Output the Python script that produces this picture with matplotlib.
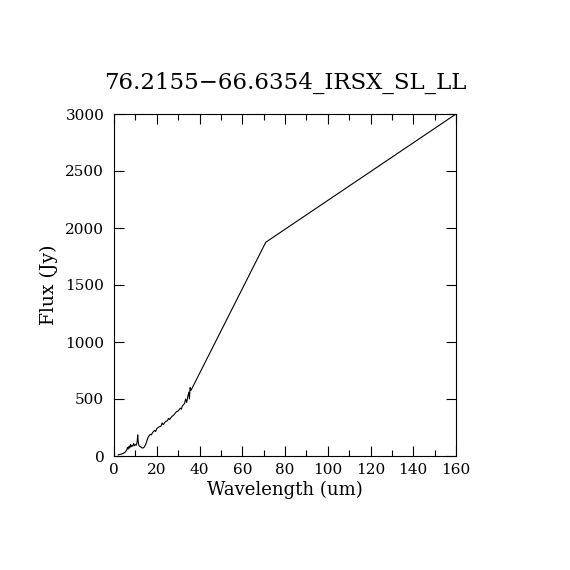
import matplotlib
matplotlib.use("Agg")
import matplotlib.pyplot as plt
from matplotlib.ticker import MultipleLocator

# spectrum (IRS SL+LL) plus the two long-wavelength photometry points
wave = [2.0, 3.0, 4.0, 5.0, 5.5, 6.0, 6.3, 6.6, 7.0, 7.3, 7.7, 8.0, 8.4, 8.8,
        9.2, 9.6, 10.0, 10.4, 10.8, 11.1, 11.3, 11.6, 12.0, 12.5, 13.0, 13.5,
        14.0, 14.5, 15.0, 15.5, 16.0, 16.5, 17.0, 17.5, 18.0, 19.0, 19.5, 20.0,
        21.0, 22.0, 22.5, 23.0, 24.0, 25.0, 25.5, 26.0, 27.0, 28.0, 29.0, 30.0,
        31.0, 31.5, 32.0, 33.0, 33.5, 34.0, 34.5, 35.0, 35.3, 35.6, 36.0,
        71.0, 160.0]
flux = [10, 15, 20, 30, 40, 55, 75, 60, 85, 70, 100, 80, 95, 85,
        110, 90, 100, 95, 120, 185, 130, 95, 85, 80, 72, 70,
        75, 90, 110, 140, 165, 180, 190, 185, 205, 225, 215, 240,
        255, 262, 290, 275, 300, 310, 330, 320, 345, 360, 385, 395,
        420, 410, 440, 460, 500, 470, 520, 560, 500, 600, 575,
        1875, 3000]

title = "76.2155\u221266.6354_IRSX_SL_LL"

plt.rcParams['font.family'] = ['DejaVu Serif']

fig = plt.figure(figsize=(5.7, 5.7), dpi=100)
ax = fig.add_axes([0.2, 0.2, 0.6, 0.6])

ax.plot(wave, flux, color='black', lw=0.8)

ax.set_xlim(0, 160)
ax.set_ylim(0, 3000)
ax.xaxis.set_major_locator(MultipleLocator(20))
ax.xaxis.set_minor_locator(MultipleLocator(10))
ax.yaxis.set_major_locator(MultipleLocator(500))
ax.tick_params(which='both', direction='in', top=True, right=True,
               width=0.8, labelsize=11)
ax.tick_params(which='major', length=7)
ax.tick_params(which='minor', length=4)
ax.tick_params(axis='x', pad=5)
ax.tick_params(axis='y', pad=7)
for s in ax.spines.values():
    s.set_linewidth(0.8)

ax.set_xlabel("Wavelength (um)", fontsize=13, labelpad=3)
ax.set_ylabel("Flux (Jy)", fontsize=13.5, labelpad=5)
ax.set_title(title, fontsize=16.5, pad=18)

fig.savefig("out.png", dpi=100)
